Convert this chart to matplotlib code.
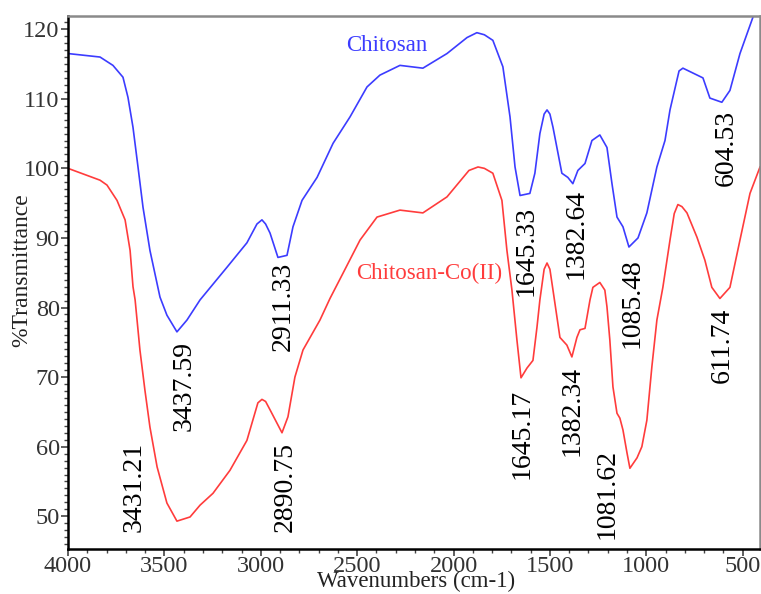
import matplotlib
matplotlib.use('Agg')
import matplotlib.pyplot as plt
from matplotlib.ticker import MultipleLocator

plt.rcParams['font.family'] = ['Liberation Serif', 'DejaVu Serif']

# Chitosan (blue)
wn_chitosan = [4000, 3834, 3767, 3715, 3689, 3663, 3637, 3611, 3575, 3523,
               3487, 3435, 3383, 3315, 3175, 3072, 3020, 2994, 2975, 2952, 2911, 2864,
               2833, 2786, 2708, 2625, 2537, 2449, 2382, 2278, 2159, 2034,
               1930, 1879, 1840, 1796, 1744, 1707, 1681, 1655, 1604, 1578, 1552, 1530, 1515,
               1500, 1484, 1438, 1407, 1381, 1355, 1318, 1282, 1241, 1204, 1178,
               1152, 1121, 1090, 1043, 997, 945, 903, 877, 841, 830, 810,
               758, 706, 670, 608, 566, 514, 447]
t_chitosan = [116.5, 116.0, 114.8, 113.1, 110.2, 105.9, 100.2, 94.4, 88.2, 81.5,
              78.9, 76.5, 78.2, 81.1, 85.8, 89.3, 92.0, 92.6, 92.0, 90.7, 87.2, 87.5,
              91.6, 95.4, 98.7, 103.6, 107.4, 111.7, 113.4, 114.8, 114.4, 116.5,
              118.8, 119.5, 119.2, 118.4, 114.6, 107.4, 100.2, 96.1, 96.4, 99.3, 105.0, 107.8, 108.4,
              107.8, 105.9, 99.3, 98.7, 97.8, 99.7, 100.7, 104.0, 104.8, 103.0, 97.8,
              93.0, 91.6, 88.7, 90.0, 93.6, 100.2, 104.0, 108.4, 112.7, 114.0, 114.4,
              113.7, 113.0, 110.1, 109.5, 111.2, 116.5, 121.7]

# Chitosan-Co(II) (red)
wn_complex = [4000, 3834, 3798, 3746, 3704, 3678, 3663, 3652, 3627, 3601,
              3575, 3538, 3487, 3435, 3367, 3315, 3248, 3160, 3072, 3015, 2994,
              2975, 2952, 2890, 2859, 2823, 2781, 2693, 2641, 2574, 2485, 2397,
              2278, 2159, 2034, 1920, 1873, 1840, 1796, 1749, 1723, 1697, 1671, 1650,
              1619, 1588, 1567, 1552, 1530, 1515, 1500, 1484, 1448, 1412, 1386, 1360,
              1344, 1318, 1292, 1277, 1241, 1215, 1204, 1189, 1173, 1152,
              1137, 1121, 1100, 1085, 1048, 1023, 997, 971, 945, 914,
              877, 855, 836, 815, 789, 737, 696, 660, 618, 566, 514, 462, 410]
t_complex = [100.0, 98.3, 97.6, 95.4, 92.6, 88.2, 83.0, 81.1, 73.9, 68.1,
             62.8, 57.1, 51.9, 49.3, 49.9, 51.6, 53.3, 56.6, 60.9, 66.3, 66.8,
             66.5, 65.3, 62.0, 64.3, 70.0, 73.9, 78.2, 81.3, 84.9, 89.7, 93.0,
             94.0, 93.6, 95.9, 99.7, 100.2, 100.0, 99.3, 95.4, 88.2, 82.5, 75.3, 69.9,
             71.3, 72.4, 77.2, 81.1, 85.5, 86.4, 85.5, 82.5, 75.7, 74.6, 72.9, 75.7,
             76.8, 77.0, 81.1, 82.9, 83.6, 82.5, 80.1, 75.3, 68.6, 64.8,
             64.1, 62.4, 59.1, 56.9, 58.4, 60.0, 63.8, 71.5, 78.2, 82.9,
             89.7, 93.5, 94.8, 94.5, 93.6, 90.1, 86.8, 82.9, 81.3, 82.9, 89.7, 96.4, 100.2]

# peak labels: text, x, y (text centre)
peak_labels = ['3437.59', '2911.33', '1645.33', '1382.64', '1085.48', '604.53',
               '3431.21', '2890.75', '1645.17', '1382.34', '1081.62', '611.74']
peak_x = [3398, 2885, 1624, 1365, 1075, 587,
          3658, 2874, 1645, 1386, 1204, 608]
peak_y = [68.7, 80.1, 88.1, 90.5, 80.6, 103.0,
          54.2, 54.2, 61.8, 65.1, 53.2, 74.6]

blue = '#3c3cff'
red = '#ff3c3c'

fig = plt.figure(figsize=(7.61, 5.94), dpi=100)
ax = fig.add_axes([0.0894, 0.0758, 0.9093, 0.8973])

ax.plot(wn_chitosan, t_chitosan, color=blue, lw=1.2)
ax.plot(wn_complex, t_complex, color=red, lw=1.2)

ax.text(2345, 117.7, 'Chitosan', color=blue, fontsize=16.5, ha='center', va='center')
ax.text(2128, 84.9, 'Chitosan-Co(II)', color=red, fontsize=16.5, ha='center', va='center')

for lab, x, y in zip(peak_labels, peak_x, peak_y):
    ax.text(x, y, lab, rotation=90, fontsize=20, ha='center', va='center', color='black')

ax.set_xlim(4000, 410)
ax.set_ylim(45.3, 121.9)
ax.xaxis.set_major_locator(MultipleLocator(500))
ax.xaxis.set_minor_locator(MultipleLocator(100))
ax.yaxis.set_major_locator(MultipleLocator(10))
ax.yaxis.set_minor_locator(MultipleLocator(1))

ax.tick_params(axis='both', which='major', direction='out', length=5, width=1.2,
               color='#444444', labelsize=17.5, labelcolor='#333333', pad=1)
ax.tick_params(axis='x', which='major', pad=0)
ax.tick_params(axis='both', which='minor', direction='out', length=3, width=1.0,
               color='#444444')

for side in ['left', 'bottom']:
    ax.spines[side].set_color('black')
    ax.spines[side].set_linewidth(1.8)
for side in ['top', 'right']:
    ax.spines[side].set_color('#8a8a8a')
    ax.spines[side].set_linewidth(1.8)

fig.text(416 / 761, 1 - 581 / 594, 'Wavenumbers (cm-1)', fontsize=16.5, ha='center', va='center',
         color='#222222')
fig.text(22 / 761, 1 - 270 / 594, '%Transmittance', fontsize=17, rotation=90,
         ha='center', va='center', color='#222222')

fig.savefig('out.png', dpi=100)
